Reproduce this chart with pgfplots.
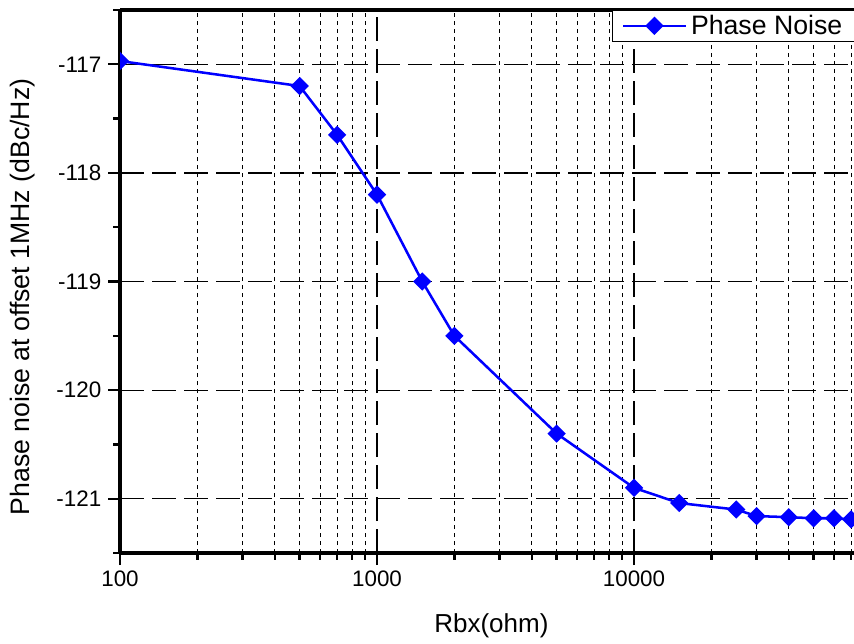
\documentclass[border=0pt]{standalone}
\usepackage{pgfplots}
\pgfplotsset{compat=1.18}
\usepackage{fontspec}
\setmainfont{Liberation Sans}
\definecolor{pblue}{RGB}{0,0,255}
\begin{document}
\begin{tikzpicture}
\begin{axis}[
  scale only axis,
  width=550.5pt, height=407.25pt,
  xmode=log, log basis x=10,
  xmin=100, xmax=71800,
  ymin=-121.5, ymax=-116.5,
  xtick={100,1000,10000},
  xticklabels={100,1000,10000},
  minor xtick={200,300,400,500,600,700,800,900,2000,3000,4000,5000,6000,7000,8000,9000,20000,30000,40000,50000,60000,70000},
  ytick={-121,-120,-119,-118,-117},
  yticklabels={-121,-120,-119,-118,-117},
  minor ytick={-121.5,-120.5,-119.5,-118.5,-117.5,-116.5},
  axis x line*=box, axis y line*=left,
  xtick pos=bottom, ytick pos=left,
  tick align=outside,
  major tick length=9pt, minor tick length=5pt,
  tick style={black, line width=1.8pt},
  axis line style={line width=3pt, black},
  xmajorgrids, ymajorgrids, xminorgrids,
  major grid style={black, line width=0.9pt, dash pattern=on 18pt off 6pt},
  minor grid style={black, line width=0.7pt, dash pattern=on 3pt off 3pt},
  every tick label/.append style={font=\fontsize{16.8}{20}\selectfont},
  yticklabel style={xshift=-1.5pt},
  xticklabel style={yshift=-1pt},
  xlabel={Rbx(ohm)},
  ylabel={Phase noise at offset 1MHz (dBc/Hz)},
  every axis x label/.style={at={(axis description cs:0.506,-0.1473)}, anchor=base, font=\fontsize{19.5}{23}\selectfont},
  every axis y label/.style={at={(axis description cs:-0.1322,0.4715)}, anchor=center, rotate=90, font=\fontsize{20}{23}\selectfont},
  legend style={at={(axis description cs:0.6703,1)}, anchor=north west, draw=black, line width=0.75pt, fill=white,
    font=\fontsize{20}{23}\selectfont, inner sep=0.5pt, inner xsep=7pt, nodes={inner sep=3pt}},
  legend image code/.code={\draw[mark repeat=2,mark phase=2,#1] plot coordinates {(0pt,0pt) (23.5pt,0pt) (47pt,0pt)};},
  clip marker paths=true,
]
\addplot[color=pblue, line width=1.9pt, mark=square*, mark size=3.9pt, mark options={rotate=45, solid, fill=pblue}] coordinates {
(100,-116.97) (500,-117.2) (700,-117.65) (1000,-118.2) (1500,-119.0) (2000,-119.5)
(5000,-120.4) (10000,-120.9) (15000,-121.04) (25000,-121.1) (30000,-121.16)
(40000,-121.17) (50000,-121.18) (60000,-121.18) (70000,-121.19)
};
\addlegendentry{Phase Noise\hspace{12pt}}
\end{axis}
\pgfresetboundingbox
\path ([shift={(-90pt,-67.5pt)}]current axis.south west) rectangle ([shift={(0pt,7.5pt)}]current axis.north east);
\end{tikzpicture}
\end{document}
